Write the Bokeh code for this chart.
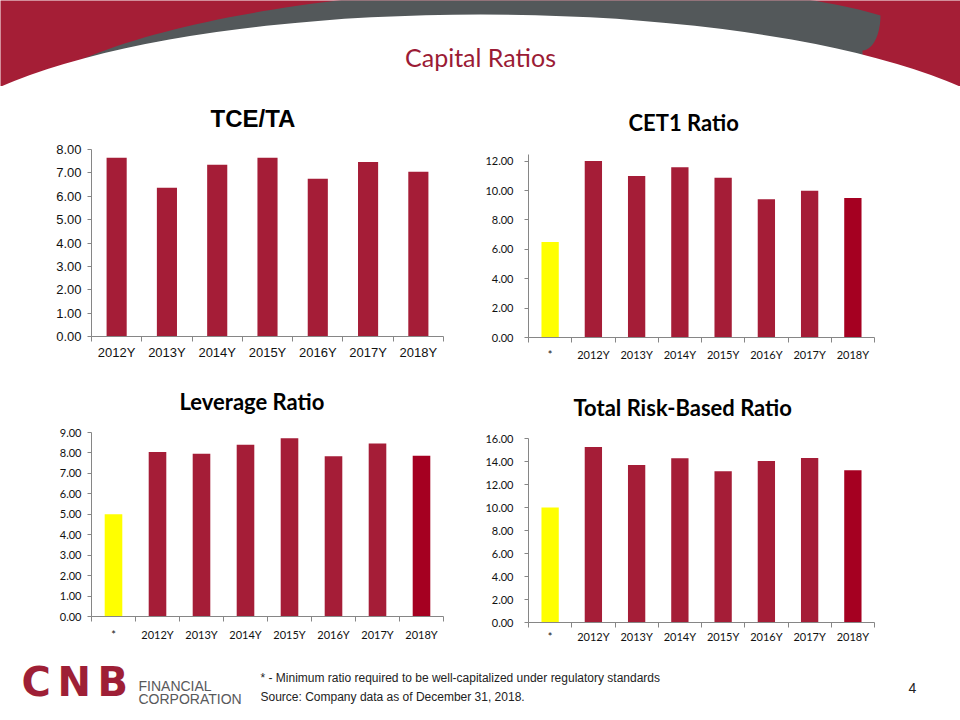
import numpy as np
from bokeh.plotting import figure
from bokeh.layouts import column, row
from bokeh.models import FixedTicker, NumeralTickFormatter, Range1d, ColumnDataSource
from bokeh.core.properties import value
from bokeh.embed import file_html
from bokeh.resources import INLINE

# ---------------- data ----------------
years = ["2012Y", "2013Y", "2014Y", "2015Y", "2016Y", "2017Y", "2018Y"]
cats_min = ["*"] + years
tce_ta = [7.65, 6.36, 7.35, 7.65, 6.75, 7.47, 7.05]
cet1 = [6.50, 12.00, 10.98, 11.59, 10.87, 9.40, 9.98, 9.49]
leverage = [5.00, 8.05, 7.96, 8.40, 8.72, 7.84, 8.46, 7.86]
total_rb = [10.00, 15.27, 13.70, 14.29, 13.15, 14.05, 14.31, 13.24]

tce_ticks = [0, 1, 2, 3, 4, 5, 6, 7, 8]
cet1_ticks = [0, 2, 4, 6, 8, 10, 12]
lev_ticks = [0, 1, 2, 3, 4, 5, 6, 7, 8, 9]
trb_ticks = [0, 2, 4, 6, 8, 10, 12, 14, 16]

# ---------------- styles ----------------
RED = "#A51E36"
BAR = "#A51D37"
BAR_LAST = "#A50021"
YELLOW = "#FFFF00"
GRAY_BAND = "#53585A"
AXIS = "#868686"
TXT = "#111111"


def bar_colors(n, has_min):
    cols = [BAR] * n
    if has_min:
        cols[0] = YELLOW
        cols[-1] = BAR_LAST
    return cols


def make_chart(title, labels, vals, ticks, ytop, has_min, height, geom, lab_font, lab_size,
               title_font, title_size, title_offset, title_standoff, x_standoff, y_standoff):
    left, right, top, bottom = geom
    n = len(labels)
    p = figure(width=480, height=height, x_range=Range1d(-0.5, n - 0.5),
               y_range=Range1d(0, ytop), toolbar_location=None, output_backend="svg",
               min_border_left=left, min_border_right=right,
               min_border_top=top, min_border_bottom=bottom,
               title=title)
    p.outline_line_color = None
    p.grid.visible = False
    p.background_fill_color = "white"
    p.border_fill_color = None
    src = ColumnDataSource(dict(x=list(range(n)), top=vals, color=bar_colors(n, has_min)))
    p.vbar(x="x", top="top", width=0.4, fill_color="color", line_color=None, source=src)

    p.title.align = "left"
    p.title.vertical_align = "top"
    p.title.offset = title_offset
    p.title.text_font = title_font
    p.title.text_font_size = title_size
    p.title.text_font_style = "bold"
    p.title.text_color = "#000000"
    p.title.standoff = title_standoff

    xa = p.xaxis[0]
    xa.ticker = FixedTicker(ticks=list(range(n)), minor_ticks=[i - 0.5 for i in range(n + 1)])
    xa.major_label_overrides = {i: lab for i, lab in enumerate(labels)}
    xa.axis_line_color = AXIS
    xa.major_tick_line_color = None
    xa.major_tick_out = 0
    xa.major_tick_in = 0
    xa.minor_tick_line_color = AXIS
    xa.minor_tick_out = 5
    xa.minor_tick_in = 0
    xa.major_label_text_font = lab_font
    xa.major_label_text_font_size = lab_size
    xa.major_label_text_color = TXT
    xa.major_label_standoff = x_standoff

    ya = p.yaxis[0]
    ya.ticker = FixedTicker(ticks=ticks)
    ya.formatter = NumeralTickFormatter(format="0.00")
    ya.axis_line_color = AXIS
    ya.major_tick_line_color = AXIS
    ya.major_tick_out = 4
    ya.major_tick_in = 0
    ya.minor_tick_line_color = None
    ya.major_label_text_font = lab_font
    ya.major_label_text_font_size = lab_size
    ya.major_label_text_color = TXT
    ya.major_label_standoff = y_standoff
    return p


c1 = make_chart("TCE/TA", years, tce_ta, tce_ticks, 8, False, 284, (91, 37, 63, 34),
                "Liberation Sans", "13px", "Liberation Sans", "24px", 119, 32, 3, 6)
c2 = make_chart("CET1 Ratio", cats_min, cet1, cet1_ticks, 12.45, True, 284, (48, 86, 68, 33),
                "Lato", "11px", "Lato", "22px", 100, 34, 5, 11)
c3 = make_chart("Leverage Ratio", cats_min, leverage, lev_ticks, 9, True, 280, (90, 37, 62, 34),
                "Lato", "11px", "Lato", "22px", 88, 32, 6, 6)
c4 = make_chart("Total Risk-Based Ratio", cats_min, total_rb, trb_ticks, 16, True, 280, (48, 86, 68, 28),
                "Lato", "11px", "Lato", "22px", 45, 32, 2, 11)

# ---------------- header ----------------
hdr = figure(width=960, height=86, x_range=Range1d(0, 960), y_range=Range1d(86, 0),
             x_axis_type=None, y_axis_type=None, toolbar_location=None, output_backend="svg",
             min_border=0)
hdr.outline_line_color = None
hdr.grid.visible = False
hdr.background_fill_color = RED
hdr.border_fill_color = RED

t = np.linspace(0, 1, 80)
P0, P1, P2, P3 = (40, 80), (200, -20), (700, -40), (880, 15)
bx = (1 - t) ** 3 * P0[0] + 3 * (1 - t) ** 2 * t * P1[0] + 3 * (1 - t) * t ** 2 * P2[0] + t ** 3 * P3[0]
by = (1 - t) ** 3 * P0[1] + 3 * (1 - t) ** 2 * t * P1[1] + 3 * (1 - t) * t ** 2 * P2[1] + t ** 3 * P3[1]
ang = np.linspace(0, np.pi / 2, 12)
capx = 862 + 18 * np.cos(ang)
capy = 15 + 35 * np.sin(ang)
gx = list(bx) + list(capx) + [862, 40]
gy = list(by) + list(capy) + [120, 120]
hdr.patch(gx, gy, fill_color=GRAY_BAND, line_color=None)
hdr.ellipse(x=480, y=163, width=1120, height=298, fill_color="white", line_color=None)
hdr.text(x=[480], y=[56], text=["Capital Ratios"], text_font=value("Lato"), text_font_size="25px",
         text_color="#9B1B35", text_align="center", text_baseline="middle")

# ---------------- footer ----------------
ftr = figure(width=960, height=70, x_range=Range1d(0, 960), y_range=Range1d(720, 650),
             x_axis_type=None, y_axis_type=None, toolbar_location=None, output_backend="svg",
             min_border=0)
ftr.outline_line_color = None
ftr.grid.visible = False
ftr.background_fill_color = "white"
ftr.border_fill_color = "white"
ftr.text(x=[21, 57, 97], y=[681, 681, 681], text=["C", "N", "B"], text_font=value("DejaVu Sans"),
         text_font_size="40px", text_font_style="bold", text_color="#9E1F36",
         text_align="left", text_baseline="middle")
ftr.text(x=[138, 138], y=[685, 698], text=["FINANCIAL", "CORPORATION"],
         text_font=value("Liberation Sans"), text_font_size="14px", text_color="#58595B",
         text_align="left", text_baseline="middle")
ftr.text(x=[260, 260], y=[677, 696],
         text=["* - Minimum ratio required to be well-capitalized under regulatory standards",
               "Source: Company data as of December 31, 2018."],
         text_font=value("Liberation Sans"), text_font_size="12px", text_color="#222222",
         text_align="left", text_baseline="middle")
ftr.text(x=[912], y=[687], text=["4"], text_font=value("Liberation Sans"), text_font_size="14px",
         text_color="#222222", text_align="center", text_baseline="middle")

layout = column(hdr, row(column(c1, c3), column(c2, c4)), ftr)
open("out.html", "w").write(file_html(layout, INLINE))
